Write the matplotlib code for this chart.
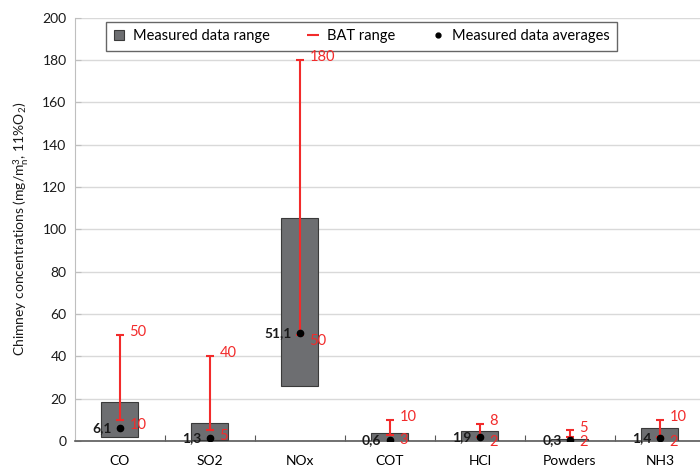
import matplotlib
matplotlib.use('Agg')
import matplotlib.pyplot as plt
from matplotlib.lines import Line2D

plt.rcParams['font.family'] = ['Lato', 'DejaVu Sans']
plt.rcParams['mathtext.fontset'] = 'custom'
plt.rcParams['mathtext.rm'] = 'Lato'
plt.rcParams['mathtext.it'] = 'Lato'

# data
pollutants = ['CO', 'SO2', 'NOx', 'COT', 'HCl', 'Powders', 'NH3']
meas_min = [1.9, 0.2, 25.7, 0.1, 0.1, 0.1, 0.1]
meas_max = [18.5, 8.3, 105.4, 3.6, 4.7, 0.8, 6.3]
meas_avg = [6.1, 1.3, 51.1, 0.6, 1.9, 0.3, 1.4]
bat_min = [10, 5, 50, 3, 2, 2, 2]
bat_max = [50, 40, 180, 10, 8, 5, 10]

red = '#f22b2b'
grey = '#6d6e71'

fig = plt.figure(figsize=(7, 4.68), dpi=100)
ax = fig.add_axes([0.107, 0.058, 0.9, 0.904])

x = list(range(len(pollutants)))
heights = [hi - lo for lo, hi in zip(meas_min, meas_max)]
ax.bar(x, heights, bottom=meas_min, width=0.41, color=grey,
       edgecolor='#3a3a3a', linewidth=0.8, zorder=3)

mid = [(lo + hi) / 2 for lo, hi in zip(bat_min, bat_max)]
half = [(hi - lo) / 2 for lo, hi in zip(bat_min, bat_max)]
ax.errorbar(x, mid, yerr=half, fmt='none', ecolor=red, elinewidth=1.5,
            capsize=3, capthick=1.5, zorder=4)
ax.plot(x, meas_avg, 'o', color='black', markersize=4.5, zorder=5)

for i in x:
    ax.annotate(str(meas_avg[i]).replace('.', ','), (i, meas_avg[i]),
                xytext=(-6, 0), textcoords='offset points', ha='right',
                va='center', fontsize=10, fontweight='bold', color='#1a1a1a', zorder=6)
    ax.annotate(str(bat_max[i]), (i, bat_max[i]), xytext=(7, 2),
                textcoords='offset points', ha='left', va='center',
                fontsize=10.5, color=red, zorder=6)
    ax.annotate(str(bat_min[i]), (i, bat_min[i]), xytext=(7, -4),
                textcoords='offset points', ha='left', va='center',
                fontsize=10.5, color=red, zorder=6)

ax.set_xlim(-0.5, 6.5)
ax.set_ylim(0, 200)
ax.set_yticks(range(0, 201, 20))
ax.yaxis.grid(True, color='#d9d9d9', linewidth=1, zorder=0)
ax.set_axisbelow(True)

ax.set_xticks([i + 0.5 for i in x[:-1]])
ax.set_xticklabels([])
ax.set_xticks(x, minor=True)
ax.set_xticklabels(pollutants, minor=True, fontsize=10)
ax.tick_params(axis='x', which='major', direction='in', length=4, color='#595959')
ax.tick_params(axis='x', which='minor', length=0, pad=10)
ax.tick_params(axis='y', direction='in', length=4, color='#bfbfbf',
               labelsize=10, labelcolor='#1a1a1a', pad=6)

for s in ['top', 'right']:
    ax.spines[s].set_visible(False)
ax.spines['left'].set_color('#bfbfbf')
ax.spines['bottom'].set_color('#595959')
ax.spines['bottom'].set_linewidth(1.2)

ax.set_ylabel(r'Chimney concentrations (mg/m$^{3}_{n}$, 11%O$_{2}$)',
              fontsize=10, color='#1a1a1a', labelpad=8)

handles = [Line2D([], [], color=grey, marker='s', linestyle='none', markersize=7,
                  markeredgecolor='#3a3a3a', markeredgewidth=0.8,
                  label='Measured data range'),
           Line2D([], [], color=red, marker='_', linestyle='none', markersize=8,
                  markeredgewidth=1.5, label='BAT range'),
           Line2D([], [], color='black', marker='o', linestyle='none', markersize=3.5,
                  label='Measured data averages')]
leg = ax.legend(handles=handles, loc='upper center', bbox_to_anchor=(0.455, 1.0),
                ncol=3, fontsize=10.5, frameon=True, fancybox=False,
                handlelength=0.8, handletextpad=0.6, columnspacing=2.5,
                borderpad=0.5, borderaxespad=0.3)
leg.get_frame().set_edgecolor('#404040')
leg.get_frame().set_linewidth(1)

fig.savefig('out.png', dpi=100)
